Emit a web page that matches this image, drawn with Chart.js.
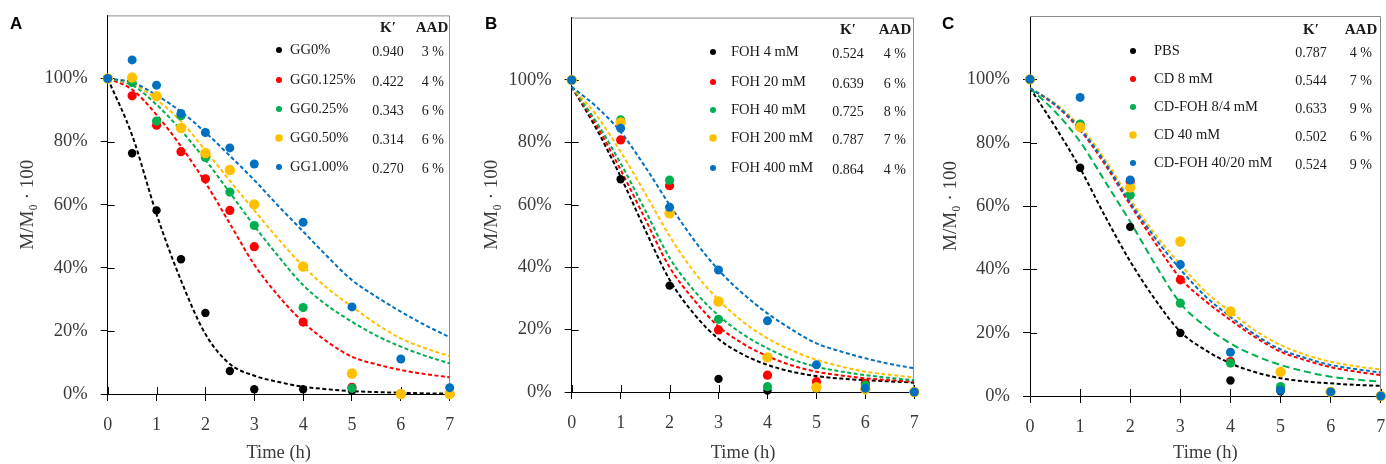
<!DOCTYPE html>
<html>
<head>
<meta charset="utf-8">
<script src="https://cdn.jsdelivr.net/npm/chart.js@4"></script>
<style>
  body { margin: 0; background: #fff; width: 1386px; height: 464px; position: relative; overflow: hidden; }
  canvas { position: absolute; top: 0; }
</style>
</head>
<body>
<canvas id="chartA" width="462" height="464" style="left:0px"></canvas>
<canvas id="chartB" width="456" height="464" style="left:470px"></canvas>
<canvas id="chartC" width="456" height="464" style="left:930px"></canvas>
<script>
const colors = ['#000000', '#ff0000', '#00b050', '#ffc000', '#0070c0'];
const radii = [4.2, 4.6, 4.6, 5.2, 4.5];
const yTicks = [0, 20, 40, 60, 80, 100];
const fitTime = [0, 0.5, 1, 1.5, 2, 2.5, 3, 3.5, 4, 4.5, 5, 5.5, 6, 6.5, 7];

// Panel A - guar gum
const timeA = [0, 0.5, 1, 1.5, 2, 2.5, 3, 4, 5, 6, 7];
const namesA = ['GG0%', 'GG0.125%', 'GG0.25%', 'GG0.50%', 'GG1.00%'];
const kA = ['0.940', '0.422', '0.343', '0.314', '0.270'];
const aadA = ['3 %', '4 %', '6 %', '6 %', '6 %'];
const ptsA0 = [100, 76.3, 58.2, 42.7, 25.7, 7.3, 1.5, 1.5, 1.0, 0, 0];
const ptsA1 = [100, 94.5, 85.2, 76.8, 68.2, 58.2, 46.7, 22.8, 2.1, 0, 0];
const ptsA2 = [100, 98.7, 86.5, 88.2, 75.0, 64.0, 53.4, 27.4, 1.8, 0, 0];
const ptsA3 = [100, 100.3, 94.4, 84.3, 76.4, 71.0, 60.1, 40.4, 6.5, 0, 0];
const ptsA4 = [100, 105.9, 97.9, 88.9, 82.9, 78.0, 72.9, 54.4, 27.6, 11.1, 2.0];
const fitA0 = [100, 82, 57, 36, 19, 9.5, 5.8, 3.8, 2.3, 1.5, 0.9, 0.6, 0.4, 0.2, 0.1];
const fitA1 = [100, 96.5, 88.5, 78.5, 67, 54, 41, 31, 22.8, 16.5, 11.8, 9.4, 7.6, 6.3, 5.3];
const fitA2 = [100, 97.9, 91.7, 83.6, 74.2, 63.8, 53.3, 43.5, 34.5, 28, 22.9, 18.5, 15.0, 12.1, 9.7];
const fitA3 = [100, 98.4, 93.3, 86.4, 77.2, 67.6, 58.2, 49, 40.5, 33.5, 27.7, 22.2, 17.6, 14.5, 12.0];
const fitA4 = [100, 98.8, 94.7, 89.5, 82.9, 75.5, 67.8, 59.5, 51.5, 43.5, 36.1, 30.8, 26.1, 21.8, 18.0];

// Panel B - FOH
const timeBC = [0, 1, 2, 3, 4, 5, 6, 7];
const namesB = ['FOH 4 mM', 'FOH 20 mM', 'FOH 40 mM', 'FOH 200 mM', 'FOH 400 mM'];
const kB = ['0.524', '0.639', '0.725', '0.787', '0.864'];
const aadB = ['4 %', '6 %', '8 %', '7 %', '4 %'];
const ptsB0 = [100, 68.2, 34.1, 4.2, 0.5, 1.0, 1.0, 0];
const ptsB1 = [100, 80.8, 66.1, 19.9, 5.4, 3.3, 2.8, 0];
const ptsB2 = [100, 87.2, 67.9, 23.3, 1.7, 1.5, 2.2, 0];
const ptsB3 = [100, 86.4, 57.3, 29.0, 11.1, 1.5, 0.9, 0];
const ptsB4 = [100, 84.5, 59.2, 39.1, 22.8, 8.7, 1.2, 0];
const fitB0 = [97.8, 84.5, 69, 52, 36, 25, 17, 12, 8.7, 6.5, 5.1, 4.3, 3.8, 3.4, 3.0];
const fitB1 = [97.8, 85.6, 71.2, 55.5, 40, 29.5, 21, 15.5, 11.5, 8.5, 6.5, 5.3, 4.4, 3.8, 3.3];
const fitB2 = [97.8, 86.6, 73.3, 58.3, 43, 32.5, 24.5, 18.5, 14, 10.5, 8.1, 6.6, 5.4, 4.5, 3.8];
const fitB3 = [97.8, 88.8, 77, 63.7, 50, 38.5, 29.5, 22.5, 17.2, 13.3, 10.3, 8.2, 6.5, 5.5, 4.7];
const fitB4 = [97.8, 91.5, 83.4, 72.2, 60, 48.7, 39.1, 31.5, 25.2, 20, 15.6, 13, 10.8, 9, 7.6];

// Panel C - CD / CD-FOH
const namesC = ['PBS', 'CD 8 mM', 'CD-FOH 8/4 mM', 'CD 40 mM', 'CD-FOH 40/20 mM'];
const kC = ['0.787', '0.544', '0.633', '0.502', '0.524'];
const aadC = ['4 %', '7 %', '9 %', '6 %', '9 %'];
const ptsC0 = [100, 72.1, 53.4, 19.9, 4.9, 1.5, 1.5, 0];
const ptsC1 = [100, 85.6, 67.7, 36.7, 10.9, 2.5, 1.3, 0];
const ptsC2 = [100, 85.9, 63.5, 29.3, 10.4, 3.0, 1.3, 0];
const ptsC3 = [100, 84.9, 65.9, 48.8, 26.7, 7.6, 1.3, 0];
const ptsC4 = [100, 94.3, 68.2, 41.5, 13.8, 1.8, 1.3, 0];
const fitC0 = [97.2, 85.1, 71.9, 56.7, 42.5, 30.4, 20.3, 14.5, 10.3, 7.5, 5.6, 4.6, 4.0, 3.5, 3.2];
const fitC1 = [97.2, 91.9, 84, 73, 60.4, 48.3, 37.2, 30, 24, 18.5, 14, 11.3, 9.1, 7.7, 6.6];
const fitC2 = [97.2, 89.8, 80.3, 67.7, 55, 41.5, 29.3, 22, 16.6, 12.7, 9.8, 7.7, 6.1, 5.2, 4.5];
const fitC3 = [97.2, 92.4, 85.1, 74.6, 62.1, 51, 41.5, 33, 26.6, 20.6, 16.1, 13, 10.8, 9.4, 8.4];
const fitC4 = [97.2, 92.1, 84.4, 73.7, 61.1, 49.8, 40, 31.5, 25, 19.3, 14.7, 12, 9.8, 8.5, 7.4];

const serif = '"Liberation Serif", "DejaVu Serif", serif';
const textColor = '#3a3a3a';

// box, inner tick marks, panel letter and the K'/AAD legend table
const deco = {
  id: 'deco',
  beforeDatasetsDraw(chart) {
    const { ctx, chartArea: a, scales } = chart;
    ctx.save();
    ctx.strokeStyle = '#8c8c8c';
    ctx.lineWidth = 1;
    ctx.beginPath();
    ctx.moveTo(a.left, a.top + 0.5);
    ctx.lineTo(Math.round(a.right) - 0.5, a.top + 0.5);
    ctx.lineTo(Math.round(a.right) - 0.5, a.bottom);
    ctx.stroke();
    ctx.strokeStyle = '#000';
    ctx.beginPath();
    scales.y.ticks.forEach(t => {
      const py = Math.round(scales.y.getPixelForValue(t.value)) + 0.5;
      ctx.moveTo(a.left, py);
      ctx.lineTo(a.left + 7, py);
    });
    scales.x.ticks.forEach(t => {
      const px = Math.round(scales.x.getPixelForValue(t.value)) + 0.5;
      ctx.moveTo(px, a.bottom);
      ctx.lineTo(px, a.bottom - 7);
    });
    ctx.stroke();
    ctx.restore();
  },
  afterDraw(chart, args, o) {
    const ctx = chart.ctx;
    ctx.save();
    ctx.fillStyle = '#000';
    ctx.font = 'bold 17px "Liberation Sans", Arial, sans-serif';
    ctx.textBaseline = 'top';
    ctx.fillText(o.letter, o.letterX, 16);

    ctx.fillStyle = '#1a1a1a';
    ctx.textBaseline = 'middle';
    ctx.font = 'bold 15px ' + serif;
    ctx.textAlign = 'center';
    ctx.fillText('K\u2032', o.kx, o.hy);
    ctx.fillText('AAD', o.ax, o.hy);
    o.names.forEach((n, i) => {
      const y = o.rows[i];
      ctx.fillStyle = colors[i];
      ctx.beginPath();
      ctx.arc(o.mx, y, i === 3 ? 3.8 : 3, 0, Math.PI * 2);
      ctx.fill();
      ctx.fillStyle = '#1a1a1a';
      ctx.font = '14.5px ' + serif;
      ctx.textAlign = 'left';
      ctx.fillText(n, o.nx, y);
      ctx.font = '14px ' + serif;
      ctx.textAlign = 'center';
      ctx.fillText(o.k[i], o.kx, y + 2);
      ctx.textAlign = 'right';
      ctx.fillText(o.aad[i], o.ar, y + 2);
    });
    ctx.restore();
  }
};

function makeChart(id, p) {
  const datasets = [];
  p.fits.forEach((f, i) => datasets.push({
    data: fitTime.map((t, j) => ({ x: t, y: f[j] })),
    borderColor: colors[i],
    borderWidth: 2,
    borderDash: p.dash ? p.dash[i] : [4, 2.5],
    pointRadius: 0,
    fill: false,
    cubicInterpolationMode: 'monotone',
    order: 20 - i
  }));
  p.pts.forEach((v, i) => datasets.push({
    data: p.time.map((t, j) => ({ x: t, y: v[j] })),
    showLine: false,
    pointRadius: radii[i],
    pointBackgroundColor: colors[i],
    pointBorderWidth: 0,
    clip: false,
    order: 10 - i
  }));

  new Chart(document.getElementById(id), {
    type: 'line',
    data: { datasets },
    plugins: [deco],
    options: {
      responsive: false,
      animation: false,
      layout: { padding: { left: 0, right: p.padRight, top: p.padTop, bottom: 0 } },
      plugins: {
        legend: { display: false },
        tooltip: { enabled: false },
        deco: p.legend
      },
      scales: {
        x: {
          type: 'linear',
          min: 0,
          max: 7,
          ticks: { stepSize: 1, color: textColor, padding: 13, font: { family: serif, size: 18 } },
          grid: { drawOnChartArea: false, drawTicks: true, tickLength: 7, color: '#000' },
          border: { display: true, color: '#000' },
          title: { display: true, text: 'Time (h)', color: textColor, padding: { top: 0, bottom: 0 }, font: { family: serif, size: 18.5 } },
          afterFit: s => { s.height = p.xHeight; s.paddingLeft = 0; s.paddingRight = 0; }
        },
        y: {
          min: 0,
          max: 120,
          afterBuildTicks: s => { s.ticks = yTicks.map(v => ({ value: v })); },
          ticks: { color: textColor, padding: 13, font: { family: serif, size: 18.5 }, callback: v => v + '%' },
          grid: { drawOnChartArea: false, drawTicks: true, tickLength: 7, color: '#000' },
          border: { display: true, color: '#000' },
          title: { display: true, text: 'M/M\u2080 \u00b7 100', color: textColor, padding: { top: p.titlePad, bottom: 0 }, font: { family: serif, size: 19 } },
          afterFit: s => { s.width = p.yWidth; s.paddingTop = 0; s.paddingBottom = 0; }
        }
      }
    }
  });
}

makeChart('chartA', {
  time: timeA,
  pts: [ptsA0, ptsA1, ptsA2, ptsA3, ptsA4],
  fits: [fitA0, fitA1, fitA2, fitA3, fitA4],
  padRight: 12.3, padTop: 15.4, xHeight: 70, yWidth: 107.7, titlePad: 17,
  legend: { letter: 'A', letterX: 10, names: namesA, k: kA, aad: aadA,
    mx: 279, nx: 290, kx: 388, ax: 432, ar: 444, hy: 28, rows: [50, 80, 109, 138, 167] }
});

makeChart('chartB', {
  time: timeBC,
  pts: [ptsB0, ptsB1, ptsB2, ptsB3, ptsB4],
  fits: [fitB0, fitB1, fitB2, fitB3, fitB4],
  padRight: 11.7, padTop: 17.6, xHeight: 72, yWidth: 101.7, titlePad: 11,
  legend: { letter: 'B', letterX: 15, names: namesB, k: kB, aad: aadB,
    mx: 243, nx: 261, kx: 378, ax: 425, ar: 436, hy: 30, rows: [52, 82, 110, 138, 168] }
});

makeChart('chartC', {
  time: timeBC,
  pts: [ptsC0, ptsC1, ptsC2, ptsC3, ptsC4],
  fits: [fitC0, fitC1, fitC2, fitC3, fitC4],
  dash: [[4, 2.5], [4, 2.5], [7, 4], [4, 2.5], [4, 2.5]],
  padRight: 5, padTop: 16, xHeight: 68, yWidth: 100, titlePad: 10,
  legend: { letter: 'C', letterX: 12, names: namesC, k: kC, aad: aadC,
    mx: 203, nx: 224, kx: 381, ax: 431, ar: 442, hy: 30, rows: [51, 79, 107, 135, 163] }
});
</script>
</body>
</html>
